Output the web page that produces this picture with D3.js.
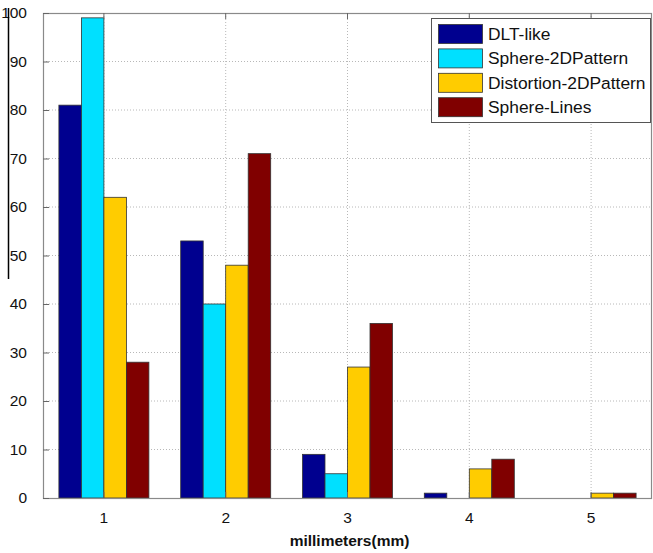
<!DOCTYPE html>
<html>
<head>
<meta charset="utf-8">
<script src="https://cdn.jsdelivr.net/npm/d3@7"></script>
<style>
  html, body { margin: 0; padding: 0; background: #fff; }
  svg { display: block; font-family: "Liberation Sans", Arial, sans-serif; }
</style>
</head>
<body>
<svg id="chart" width="653" height="553"></svg>
<script>
const categories = ["1", "2", "3", "4", "5"];
const seriesNames = ["DLT-like", "Sphere-2DPattern", "Distortion-2DPattern", "Sphere-Lines"];
const dltLike = [81, 53, 9, 1, 0];
const sphere2D = [99, 40, 5, 0, 0];
const distortion2D = [62, 48, 27, 6, 1];
const sphereLines = [28, 71, 36, 8, 1];
const seriesColors = ["#00008F", "#00E0FF", "#FFCC00", "#800000"];
const yTicks = [0, 10, 20, 30, 40, 50, 60, 70, 80, 90, 100];

const seriesValues = [dltLike, sphere2D, distortion2D, sphereLines];

const svg = d3.select("#chart");
const m = { left: 43, right: 652, top: 13, bottom: 498 };

const x = d3.scaleBand().domain(categories).range([m.left, m.right]).paddingInner(0).paddingOuter(0);
const xInner = d3.scaleBand().domain(seriesNames).range([-45, 45]);
const y = d3.scaleLinear().domain([0, 100]).range([m.bottom, m.top]);

// gridlines
const grid = svg.append("g");
grid.selectAll("line.h").data(yTicks.filter(d => d > 0 && d < 100)).enter().append("line")
  .attr("x1", m.left).attr("x2", m.right)
  .attr("y1", d => y(d)).attr("y2", d => y(d))
  .attr("stroke", "#b8b8b8").attr("stroke-width", 1).attr("stroke-dasharray", "1,2");
grid.selectAll("line.v").data(categories).enter().append("line")
  .attr("x1", d => x(d) + x.bandwidth() / 2).attr("x2", d => x(d) + x.bandwidth() / 2)
  .attr("y1", m.top).attr("y2", m.bottom)
  .attr("stroke", "#b8b8b8").attr("stroke-width", 1).attr("stroke-dasharray", "1,2");

// bars
const rows = [];
categories.forEach((c, i) => {
  seriesNames.forEach((s, j) => {
    rows.push({ cat: c, series: s, value: seriesValues[j][i], color: seriesColors[j] });
  });
});
svg.append("g").selectAll("rect").data(rows.filter(d => d.value > 0)).enter().append("rect")
  .attr("x", d => x(d.cat) + x.bandwidth() / 2 + xInner(d.series))
  .attr("width", xInner.bandwidth())
  .attr("y", d => y(d.value))
  .attr("height", d => y(0) - y(d.value))
  .attr("fill", d => d.color)
  .attr("stroke", "#333").attr("stroke-width", 0.8);

// frame
svg.append("rect")
  .attr("x", m.left + 0.5).attr("y", m.top + 0.5)
  .attr("width", m.right - m.left - 1).attr("height", m.bottom - m.top)
  .attr("fill", "none").attr("stroke", "#8a8a8a").attr("stroke-width", 1.2);

// y axis
const yAxis = d3.axisLeft(y).tickValues(yTicks).tickSize(-6).tickPadding(16);
const gy = svg.append("g").attr("transform", `translate(${m.left},0)`).call(yAxis);
gy.select(".domain").remove();
gy.selectAll(".tick line").attr("stroke", "#666");
gy.selectAll(".tick text").attr("font-size", 15.5).attr("fill", "#111")
  .attr("font-family", "'Liberation Sans', Arial, sans-serif");

// x axis (ticks at top and bottom)
const xAxis = d3.axisBottom(x).tickSize(-6).tickPadding(14);
const gx = svg.append("g").attr("transform", `translate(0,${m.bottom})`).call(xAxis);
gx.select(".domain").remove();
gx.selectAll(".tick line").attr("stroke", "#666");
gx.selectAll(".tick text").attr("font-size", 15.5).attr("fill", "#111")
  .attr("font-family", "'Liberation Sans', Arial, sans-serif");
const gxTop = svg.append("g").attr("transform", `translate(0,${m.top})`).call(d3.axisTop(x).tickSize(-6).tickFormat(""));
gxTop.select(".domain").remove();
gxTop.selectAll(".tick line").attr("stroke", "#666");

// x axis title
svg.append("text")
  .attr("x", (m.left + m.right) / 2 + 2).attr("y", 546)
  .attr("text-anchor", "middle")
  .attr("font-size", 15.5).attr("font-weight", "bold").attr("fill", "#111")
  .text("millimeters(mm)");

// stray black line on the left edge
svg.append("line").attr("x1", 8.5).attr("x2", 8.5).attr("y1", 8).attr("y2", 279)
  .attr("stroke", "#000").attr("stroke-width", 1.5);

// legend
const lg = svg.append("g");
lg.append("rect").attr("x", 431.5).attr("y", 18.5).attr("width", 219).attr("height", 104)
  .attr("fill", "#fff").attr("stroke", "#555").attr("stroke-width", 1);
seriesNames.forEach((s, i) => {
  const yy = 24 + i * 24.4;
  lg.append("rect").attr("x", 438.5).attr("y", yy + 0.5).attr("width", 44).attr("height", 19)
    .attr("fill", seriesColors[i]).attr("stroke", "#333").attr("stroke-width", 0.8);
  lg.append("text").attr("x", 488).attr("y", yy + 16)
    .attr("font-size", 17.4).attr("fill", "#111").text(s);
});
</script>
</body>
</html>
